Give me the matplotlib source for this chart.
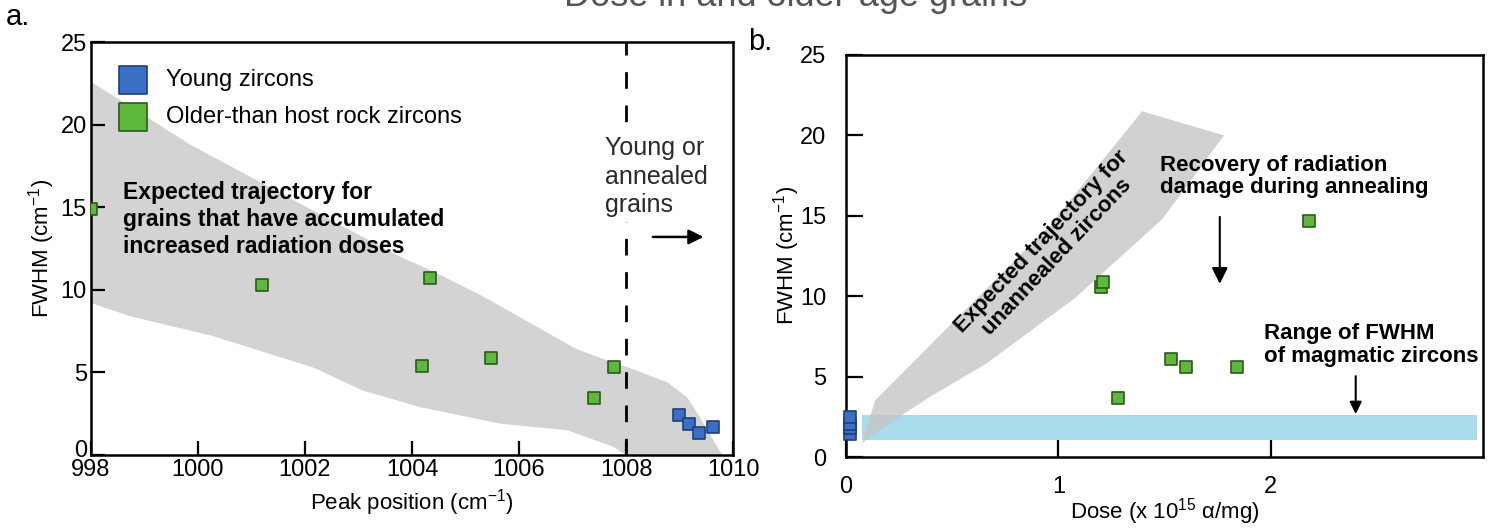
import numpy as np
import matplotlib.pyplot as plt
import matplotlib.transforms as mtransforms
from matplotlib.patches import Polygon

plt.rcParams['font.family'] = ['Liberation Sans', 'DejaVu Sans']
plt.rcParams['mathtext.fontset'] = 'custom'
plt.rcParams['mathtext.rm'] = 'Liberation Sans'
plt.rcParams['mathtext.it'] = 'Liberation Sans:italic'
plt.rcParams['mathtext.bf'] = 'Liberation Sans:bold'

# panel a: peak position vs FWHM
young_pos = [1008.99, 1009.18, 1009.36, 1009.63]
young_fwhm = [2.4, 1.9, 1.35, 1.7]
old_pos = [998.0, 1001.2, 1004.34, 1004.19, 1005.48, 1007.4, 1007.78]
old_fwhm = [14.9, 10.3, 10.7, 5.4, 5.9, 3.45, 5.3]

# envelope of expected trajectory (panel a)
band_a_upper_x = [998.0, 999.85, 1002.15, 1003.78, 1004.4, 1005.33, 1007.08,
                  1007.76, 1008.13, 1008.77, 1009.14, 1009.38, 1009.63, 1009.8]
band_a_upper_y = [22.6, 18.8, 14.8, 12.0, 11.1, 9.6, 6.4,
                  5.6, 5.2, 4.4, 3.5, 2.3, 0.9, 0.0]
band_a_lower_x = [1008.0, 1007.76, 1006.9, 1005.64, 1004.15, 1003.08, 1002.15,
                  1000.28, 998.73, 998.0]
band_a_lower_y = [0.0, 0.5, 1.5, 1.9, 2.9, 3.9, 5.3, 7.2, 8.4, 9.2]

# panel b: dose vs FWHM
young_dose = [0.02, 0.02, 0.02, 0.02]
young_fwhm_b = [1.45, 1.8, 2.05, 2.5]
old_dose = [1.20, 1.21, 1.28, 1.53, 1.60, 1.84, 2.18]
old_fwhm_b = [10.6, 10.9, 3.7, 6.1, 5.6, 5.6, 14.7]

band_b_x = [0.075, 0.136, 0.52, 0.96, 1.394, 1.78, 1.49, 1.08, 0.66, 0.39, 0.16]
band_b_y = [0.86, 3.5, 8.6, 14.4, 21.5, 20.0, 14.8, 9.9, 5.8, 3.7, 1.7]
magmatic_x = [0.075, 2.97]
magmatic_y = [1.05, 2.6]

blue = '#3b6fc6'
blue_edge = '#1d3f7a'
green = '#5db83c'
green_edge = '#2c5a1c'
gray = '#d3d3d3'

fig = plt.figure(figsize=(14.99, 5.29), dpi=100)

# ---------------- panel a ----------------
ax = fig.add_axes([0.0607, 0.1399, 0.4283, 0.7807])
ax.add_patch(Polygon(list(zip(band_a_upper_x + band_a_lower_x,
                              band_a_upper_y + band_a_lower_y)),
                     closed=True, facecolor=gray, edgecolor='none', zorder=1))
ax.axvline(1008, color='black', lw=2, ls=(0, (6, 6)), zorder=2)
ax.scatter(young_pos, young_fwhm, marker='s', s=80, c=blue, edgecolors=blue_edge,
           linewidths=1.2, zorder=4, label='Young zircons', clip_on=False)
ax.scatter(old_pos, old_fwhm, marker='s', s=80, c=green, edgecolors=green_edge,
           linewidths=1.2, zorder=4, label='Older-than host rock zircons')
ax.set_xlim(998, 1010)
ax.set_ylim(0, 25)
ax.set_xticks([998, 1000, 1002, 1004, 1006, 1008, 1010])
ax.set_yticks([0, 5, 10, 15, 20, 25])
ax.tick_params(direction='in', length=10, width=1.6, labelsize=17, pad=3)
for s in ax.spines.values():
    s.set_linewidth(1.8)
ax.set_xlabel('Peak position (cm$^{-1}$)', fontsize=16, labelpad=4)
ax.set_ylabel('FWHM (cm$^{-1}$)', fontsize=16, labelpad=2.5)
# the "0" sits a little above the corner in the original
lab0 = ax.get_yticklabels()[0]
lab0.set_transform(lab0.get_transform() +
                   mtransforms.ScaledTranslation(0, 5 / 72, fig.dpi_scale_trans))
leg = ax.legend(loc='upper left', bbox_to_anchor=(0.007, 0.985), frameon=False,
                fontsize=17, markerscale=2.2, handlelength=1.4, handletextpad=0.7,
                labelspacing=0.62, scatterpoints=1)
ax.text(998.6, 14.25, 'Expected trajectory for\ngrains that have accumulated\nincreased radiation doses',
        fontsize=16.5, fontweight='bold', va='center', ha='left', linespacing=1.2)
ax.text(1007.6, 16.85, 'Young or\nannealed\ngrains', fontsize=18, va='center', ha='left',
        color='#2a2a2a', linespacing=1.25, zorder=3,
        bbox=dict(facecolor='white', edgecolor='none', pad=3))
ax.annotate('', xy=(1009.5, 13.2), xytext=(1008.45, 13.2),
            arrowprops=dict(arrowstyle='-|>', color='black', lw=1.8, mutation_scale=22))

# ---------------- panel b ----------------
bx = fig.add_axes([0.5644, 0.1361, 0.425, 0.760])
bx.fill_between(magmatic_x, magmatic_y[0], magmatic_y[1], color='#a9dcea',
                edgecolor='none', zorder=1)
bx.add_patch(Polygon(list(zip(band_b_x, band_b_y)), closed=True, facecolor='#c6c6c6',
                     alpha=0.8, edgecolor='none', zorder=2))
bx.scatter(young_dose, young_fwhm_b, marker='s', s=80, c=blue, edgecolors=blue_edge,
           linewidths=1.2, zorder=4, clip_on=False)
bx.scatter(old_dose, old_fwhm_b, marker='s', s=80, c=green, edgecolors=green_edge,
           linewidths=1.2, zorder=4)
bx.set_xlim(0, 3.0)
bx.set_ylim(0, 25)
bx.set_xticks([0, 1, 2])
bx.set_yticks([0, 5, 10, 15, 20, 25])
bx.tick_params(direction='in', length=12, width=1.6, labelsize=17)
bx.tick_params(axis='y', pad=14)
bx.tick_params(axis='x', pad=14)
for s in bx.spines.values():
    s.set_linewidth(1.8)
bx.set_xlabel('Dose (x 10$^{15}$ α/mg)', fontsize=16, labelpad=-2)
bx.set_ylabel('FWHM (cm$^{-1}$)', fontsize=16, labelpad=-1)
bx.text(0.958, 12.9, 'Expected trajectory for\nunannealed zircons', rotation=46.6,
        rotation_mode='anchor', fontsize=16, fontweight='bold', ha='center', va='center',
        linespacing=1.05, zorder=3)
bx.text(1.48, 17.45, 'Recovery of radiation\ndamage during annealing', fontsize=16,
        fontweight='bold', ha='left', va='center', linespacing=1.1)
bx.annotate('', xy=(1.76, 10.6), xytext=(1.76, 15.1),
            arrowprops=dict(arrowstyle='-|>', color='black', lw=1.5, mutation_scale=24))
bx.text(1.97, 6.95, 'Range of FWHM\nof magmatic zircons', fontsize=16,
        fontweight='bold', ha='left', va='center', linespacing=1.1)
bx.annotate('', xy=(2.40, 2.5), xytext=(2.40, 5.2),
            arrowprops=dict(arrowstyle='-|>', color='black', lw=1.5, mutation_scale=18))

# panel letters and heading clipped by the top edge
fig.text(0.004, 0.995, 'a.', fontsize=21, va='top', ha='left')
fig.text(0.499, 0.947, 'b.', fontsize=21, va='top', ha='left')
fig.text(0.531, 0.989, 'Dose in and older-age grains', fontsize=26, va='baseline',
         ha='center', color='#555555')

fig.savefig('out.png', dpi=100)
